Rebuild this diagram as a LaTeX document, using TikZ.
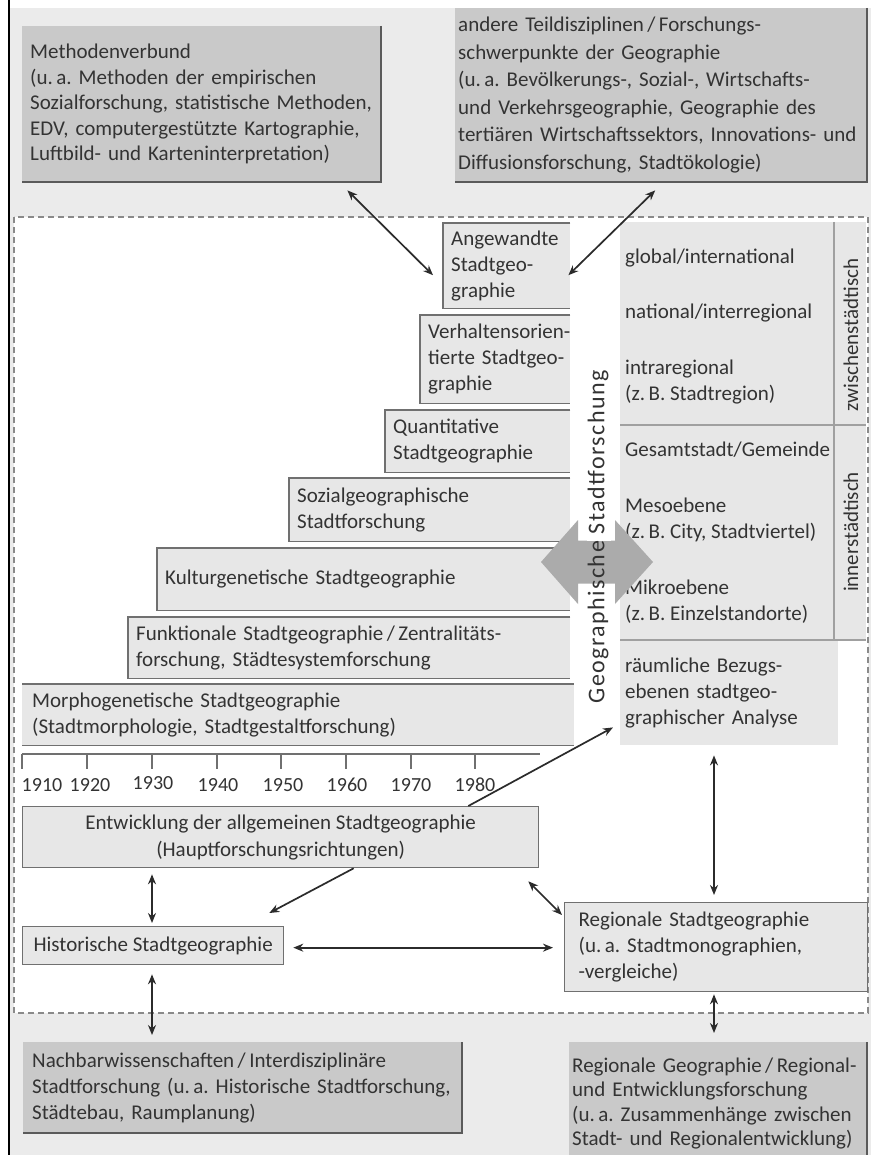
\documentclass[tikz,border=0pt]{standalone}
\usepackage{fontspec}
\setmainfont{Carlito}
\newfontfamily\vertfont{Carlito}[LetterSpace=6]
\usetikzlibrary{arrows.meta,calc}
\hyphenpenalty=10000
\exhyphenpenalty=10000
\frenchspacing
\definecolor{bgout}{HTML}{EBEBEB}
\definecolor{boxdark}{HTML}{C9C9C9}
\definecolor{boxlight}{HTML}{E7E7E7}
\definecolor{txt}{HTML}{333333}
\definecolor{edge}{HTML}{707070}
\definecolor{shade}{HTML}{5A5A5A}
\definecolor{bigarrow}{HTML}{ABABAB}
\definecolor{pline}{HTML}{A0A0A0}
\definecolor{conncol}{HTML}{2B2B2B}
\definecolor{dashcol}{HTML}{8A8A8A}
\begin{document}
\frenchspacing
\begin{tikzpicture}[x=1pt,y=-1pt,
  >={Stealth[length=10pt,width=8pt]},
  every node/.style={text=txt},
  outerbox/.style={fill=boxdark, anchor=north west, inner ysep=0pt, align=left},
  innerbox/.style={fill=boxlight, draw=edge, line width=1.3pt, anchor=north west, inner ysep=0pt},
  stairbox/.style={fill=boxlight, anchor=north west, inner ysep=0pt, inner xsep=8pt, align=left},
  stairline/.style={draw=edge, line width=1.8pt},
  shadowline/.style={draw=shade, line width=2pt},
  conn/.style={draw=conncol, line width=1.7pt, <->},
  connone/.style={draw=conncol, line width=1.7pt, ->},
  panel/.style={fill=boxlight, anchor=north west, inner sep=0pt},
  paneltext/.style={anchor=west, align=left, inner sep=0pt},
  year/.style={font=\fontsize{20}{22}\selectfont, inner sep=0pt},
  sidelabel/.style={rotate=90, inner sep=0pt},
  font=\fontsize{21}{26}\selectfont
]
\useasboundingbox (0,0) rectangle (871,1155);
% backgrounds
\fill[white] (0,0) rectangle (871,1155);
\fill[bgout] (9,8) rectangle (871,1155);
\draw[shade, line width=2pt] (9,0) -- (9,1155);
\draw[dashcol, fill=white, line width=1.3pt, dash pattern=on 6pt off 4pt] (14,217) rectangle (868,1013);

% outer boxes
\node[outerbox, minimum width=359pt, minimum height=156pt, text width=343pt, inner xsep=8pt,
      font=\fontsize{21}{25.5}\selectfont] (meth) at (22,26)
  {Methodenverbund\\(u.\,a.~Methoden~der~empirischen\\Sozialforschung,~statistische~Methoden,\\EDV,~computergestützte~Kartographie,\\Luftbild-~und~Karteninterpretation)};
\draw[shadowline] (meth.north east) -- (meth.south east) -- (meth.south west);

\node[outerbox, minimum width=412pt, minimum height=174pt, text width=406pt, inner xsep=3pt,
      font=\fontsize{21}{27.5}\selectfont] (andere) at (455,8)
  {andere~Teildisziplinen\,/\,Forschungs-\\schwerpunkte~der~Geographie\\(u.\,a.~Bevölkerungs-,~Sozial-,~Wirtschafts-\\und~Verkehrsgeographie,~Geographie~des\\tertiären~Wirtschaftssektors,~Innovations-~und\\Diffusionsforschung,~Stadtökologie)};
\draw[shadowline] (andere.north east) -- (andere.south east) -- (andere.south west);

\node[outerbox, minimum width=439pt, minimum height=91pt, text width=421pt, inner xsep=9pt] (nach) at (23,1042)
  {Nachbarwissenschaften\,/\,Interdisziplinäre\\Stadtforschung~(u.\,a.~Historische~Stadtforschung,\\Städtebau,~Raumplanung)};
\draw[shadowline] (nach.north east) -- (nach.south east) -- (nach.south west);

\node[outerbox, minimum width=298pt, minimum height=123pt, text width=292pt, inner xsep=3pt,
      font=\fontsize{21}{24.5}\selectfont] (reggeo) at (569,1042)
  {Regionale~Geographie\,/\,Regional-\\und~Entwicklungsforschung\\(u.\,a.~Zusammenhänge~zwischen\\Stadt-~und~Regionalentwicklung)};
\draw[shadowline] (reggeo.north east) -- (reggeo.south east);

% staircase of research directions
\node[stairbox, minimum width=127pt, minimum height=85pt, text width=111pt] (ang) at (443,223)
  {Angewandte\\Stadtgeo-\\graphie};
\node[stairbox, minimum width=150pt, minimum height=88pt, text width=134pt] (verh) at (420,315)
  {Verhaltensorien-\\tierte~Stadtgeo-\\graphie};
\node[stairbox, minimum width=185pt, minimum height=62pt, text width=169pt] (quant) at (385,410)
  {Quantitative\\Stadtgeographie};
\node[stairbox, minimum width=281pt, minimum height=63pt, text width=265pt] (sozial) at (289,478)
  {Sozialgeographische\\Stadtforschung};
\node[stairbox, minimum width=413pt, minimum height=62pt, text width=397pt] (kultur) at (157,548)
  {Kulturgenetische Stadtgeographie};
\node[stairbox, minimum width=442pt, minimum height=61pt, text width=426pt] (funk) at (128,617)
  {Funktionale~Stadtgeographie\,/\,Zentralitäts-\\forschung,~Städtesystemforschung};
\node[stairbox, minimum width=548pt, minimum height=61pt, text width=532pt, inner xsep=10pt] (morph) at (22,684)
  {Morphogenetische Stadtgeographie\\(Stadtmorphologie, Stadtgestaltforschung)};
\foreach \b in {ang,verh,quant,sozial,kultur,funk}
  \draw[stairline] (\b.north east) -- (\b.north west) -- (\b.south west) -- (\b.south east);
\draw[stairline] (morph.north west) -- (morph.north east);
\draw[stairline] (morph.south west) -- (morph.south east);

% timeline
\draw[edge, line width=1.6pt] (22,754) -- (540,754);
\foreach \x in {22,87,152,217,281,346,411,475}
  \draw[edge, line width=1.4pt] (\x,754) -- (\x,769);
\node[year] (y1910) at (42,785) {1910};
\node[year] (y1920) at (90,785) {1920};
\node[year] (y1930) at (153,783) {1930};
\node[year] (y1940) at (218,785) {1940};
\node[year] (y1950) at (283,785) {1950};
\node[year] (y1960) at (347,785) {1960};
\node[year] (y1970) at (411,785) {1970};
\node[year] (y1980) at (475,785) {1980};

% right panel
\node[panel, minimum width=246pt, minimum height=418pt] (rp) at (620,222) {};
\node[panel, minimum width=213pt, minimum height=105pt, align=left, text width=208pt, inner xsep=5pt,
      inner ysep=0pt] (rb) at (620,640)
  {räumliche~Bezugs-\\ebenen~stadtgeo-\\graphischer~Analyse};
\draw[pline, line width=1.5pt] (834,222) -- (834,640);
\draw[pline, line width=1.5pt] (620,425) -- (866,425);
\draw[pline, line width=1.5pt] (620,640) -- (866,640);
\node[paneltext] (glob) at (625,258) {global/international};
\node[paneltext] (nat) at (625,313) {national/interregional};
\node[paneltext] (intra) at (625,382) {intraregional\\(z.\,B. Stadtregion)};
\node[paneltext] (ges) at (625,450) {Gesamtstadt/Gemeinde};
\node[paneltext] (meso) at (625,520) {Mesoebene\\(z.\,B. City, Stadtviertel)};
\node[paneltext] (mikro) at (625,602) {Mikroebene\\(z.\,B. Einzelstandorte)};
\node[sidelabel] (zw) at (851,335) {zwischenstädtisch};
\node[sidelabel] (inn) at (851,532) {innerstädtisch};

% big grey double arrow and vertical title
\fill[bigarrow] (541,562) -- (578,520) -- (578,540.5) -- (615,540.5) -- (615,520) -- (653,562)
  -- (615,604) -- (615,583.5) -- (578,583.5) -- (578,604) -- cycle;
\fill[white] (587,362) rectangle (611,540.5);
\fill[white] (587,583.5) rectangle (611,710);
\node[sidelabel, font=\vertfont\fontsize{24}{24}\selectfont] (gs) at (598,537) {Geographische Stadtforschung};

% inner boxes
\node[innerbox, minimum width=516pt, minimum height=61pt, align=center,
      font=\fontsize{21}{27}\selectfont] (ent) at (22,806)
  {Entwicklung der allgemeinen Stadtgeographie\\(Hauptforschungsrichtungen)};
\node[innerbox, minimum width=261pt, minimum height=38pt] (hist) at (22,926) {Historische Stadtgeographie};
\node[innerbox, minimum width=303pt, minimum height=89pt, align=left, text width=275pt, inner xsep=14pt] (regst) at (564,902)
  {Regionale~Stadtgeographie\\(u.\,a.~Stadtmonographien,\\-vergleiche)};

% connectors
\draw[conn] ($(meth.south east)+(-34,8)$) -- ($(ang.west)+(-10,9.5)$);
\draw[conn] ($(andere.south)+(-6,8)$) -- ($(ang.east)+(-2,9.5)$);
\draw[connone] ($(ent.north east)+(-71,0)$) -- ($(rb.south west)+(-7,-18)$);
\draw[connone] ($(ent.south)+(73,0)$) -- ($(hist.north east)+(-15,-13)$);
\draw[conn] ($(ent.south west)+(130,6)$) -- ($(hist.north west)+(130,-3)$);
\draw[conn] ($(hist.east)+(9,2)$) -- ($(regst.west)+(-11,0.5)$);
\draw[conn] ($(ent.south east)+(-11,13)$) -- ($(regst.north west)+(-2,13)$);
\draw[conn] ($(rb.south west)+(94,10)$) -- ($(regst.north west)+(150,-7)$);
\draw[conn] ($(hist.south west)+(130,9)$) -- ($(nach.north west)+(129,-7)$);
\draw[conn] ($(regst.south west)+(150,2)$) -- ($(reggeo.north west)+(145,-9)$);
\end{tikzpicture}
\end{document}
